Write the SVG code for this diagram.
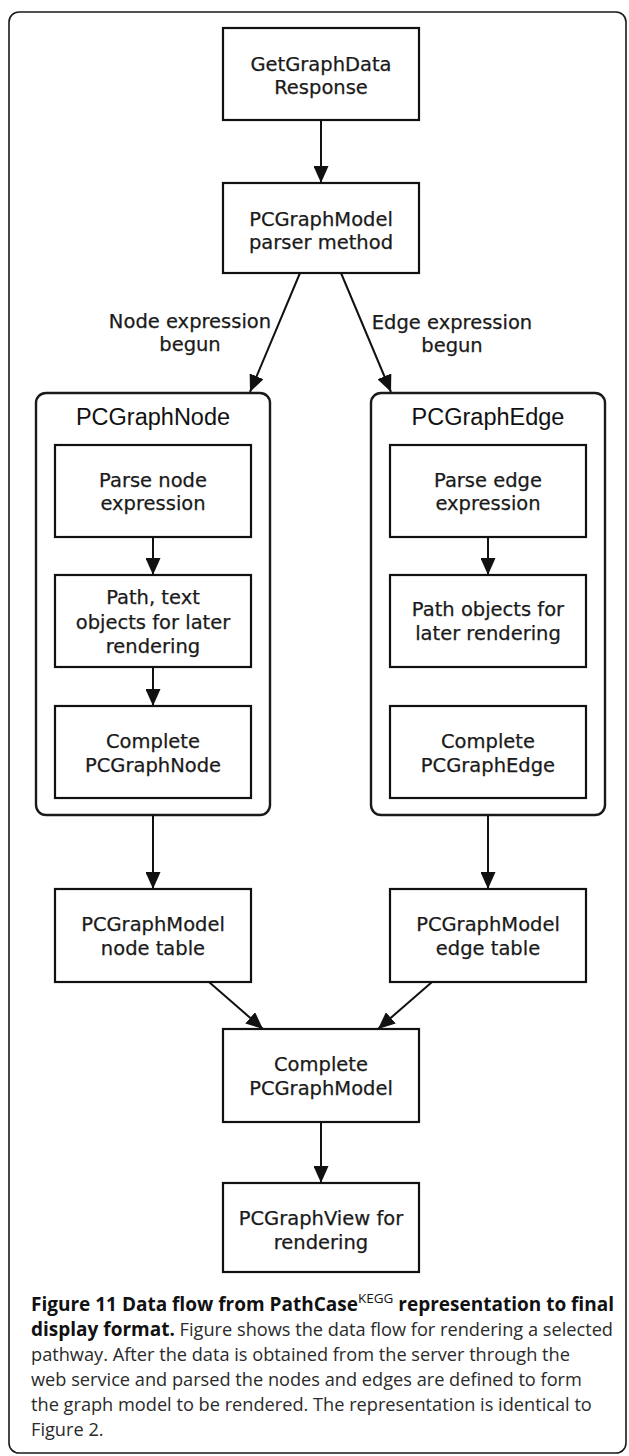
<svg xmlns="http://www.w3.org/2000/svg" width="629" height="1456" viewBox="0 0 629 1456">
  <style>
    .frame { fill: #ffffff; stroke: #1a1a1a; stroke-width: 1.6; }
    .box { fill: #ffffff; stroke: #111111; stroke-width: 2.2; }
    .group { fill: #ffffff; stroke: #1a1a1a; stroke-width: 2.4; }
    .lbl { font-family: "DejaVu Sans", "Liberation Sans", sans-serif; font-size: 19.5px; fill: #1a1a1a; stroke: #1a1a1a; stroke-width: 0.25; text-anchor: middle; }
    .title { font-family: "Liberation Sans", Arial, sans-serif; font-size: 23.5px; fill: #111111; text-anchor: middle; }
    .edge { stroke: #111111; stroke-width: 2; fill: none; marker-end: url(#arrow); }
    .cap { font-family: "Open Sans", "Noto Sans", sans-serif; font-size: 18.2px; fill: #2a2a2a; }
    .capb { font-weight: bold; font-size: 19px; fill: #111111; }
  </style>
  <defs>
    <marker id="arrow" markerWidth="17" markerHeight="15" refX="17" refY="7.5" orient="auto" markerUnits="userSpaceOnUse">
      <path d="M0,0 L17,7.5 L0,15 z" fill="#111111"/>
    </marker>
  </defs>

  <!-- outer figure frame -->
  <rect class="frame" x="9" y="12" width="617" height="1441" rx="10" ry="10"/>

  <!-- containers -->
  <g id="pcgraphnode">
    <rect class="group" x="36" y="393" width="234" height="422" rx="10" ry="10"/>
    <text class="title" x="153" y="425">PCGraphNode</text>
  </g>
  <g id="pcgraphedge">
    <rect class="group" x="371" y="393" width="234" height="422" rx="10" ry="10"/>
    <text class="title" x="488" y="425">PCGraphEdge</text>
  </g>

  <!-- connectors -->
  <g id="connectors">
    <line class="edge" x1="321" y1="120" x2="321" y2="183"/>
    <line class="edge" x1="300" y1="273" x2="250" y2="392"/>
    <line class="edge" x1="341" y1="273" x2="391" y2="392"/>
    <line class="edge" x1="153" y1="537" x2="153" y2="575"/>
    <line class="edge" x1="488" y1="537" x2="488" y2="575"/>
    <line class="edge" x1="153" y1="667" x2="153" y2="706"/>
    <line class="edge" x1="153" y1="815" x2="153" y2="889"/>
    <line class="edge" x1="488" y1="815" x2="488" y2="889"/>
    <line class="edge" x1="209" y1="982" x2="263" y2="1029"/>
    <line class="edge" x1="432" y1="982" x2="378" y2="1029"/>
    <line class="edge" x1="321" y1="1122" x2="321" y2="1183"/>
    <text class="lbl" x="190" y="328">Node expression</text>
    <text class="lbl" x="190" y="351">begun</text>
    <text class="lbl" x="452" y="329">Edge expression</text>
    <text class="lbl" x="452" y="352">begun</text>
  </g>

  <!-- nodes -->
  <g id="getgraphdata">
    <rect class="box" x="223" y="28" width="196" height="92"/>
    <text class="lbl" x="321" y="71">GetGraphData</text>
    <text class="lbl" x="321" y="94">Response</text>
  </g>
  <g id="parser">
    <rect class="box" x="223" y="183" width="196" height="90"/>
    <text class="lbl" x="321" y="226">PCGraphModel</text>
    <text class="lbl" x="321" y="249">parser method</text>
  </g>

  <g id="parse-node">
    <rect class="box" x="55" y="445" width="196" height="92"/>
    <text class="lbl" x="153" y="487">Parse node</text>
    <text class="lbl" x="153" y="510">expression</text>
  </g>
  <g id="node-objects">
    <rect class="box" x="55" y="575" width="196" height="92"/>
    <text class="lbl" x="153" y="604">Path, text</text>
    <text class="lbl" x="153" y="629">objects for later</text>
    <text class="lbl" x="153" y="653">rendering</text>
  </g>
  <g id="complete-node">
    <rect class="box" x="55" y="706" width="196" height="92"/>
    <text class="lbl" x="153" y="748">Complete</text>
    <text class="lbl" x="153" y="772">PCGraphNode</text>
  </g>

  <g id="parse-edge">
    <rect class="box" x="390" y="445" width="196" height="92"/>
    <text class="lbl" x="488" y="487">Parse edge</text>
    <text class="lbl" x="488" y="510">expression</text>
  </g>
  <g id="edge-objects">
    <rect class="box" x="390" y="575" width="196" height="92"/>
    <text class="lbl" x="488" y="616">Path objects for</text>
    <text class="lbl" x="488" y="640">later rendering</text>
  </g>
  <g id="complete-edge">
    <rect class="box" x="390" y="706" width="196" height="92"/>
    <text class="lbl" x="488" y="748">Complete</text>
    <text class="lbl" x="488" y="772">PCGraphEdge</text>
  </g>

  <g id="node-table">
    <rect class="box" x="55" y="889" width="196" height="93"/>
    <text class="lbl" x="153" y="931">PCGraphModel</text>
    <text class="lbl" x="153" y="955">node table</text>
  </g>
  <g id="edge-table">
    <rect class="box" x="390" y="889" width="196" height="93"/>
    <text class="lbl" x="488" y="931">PCGraphModel</text>
    <text class="lbl" x="488" y="955">edge table</text>
  </g>

  <g id="complete-model">
    <rect class="box" x="223" y="1029" width="196" height="93"/>
    <text class="lbl" x="321" y="1071">Complete</text>
    <text class="lbl" x="321" y="1095">PCGraphModel</text>
  </g>
  <g id="graph-view">
    <rect class="box" x="223" y="1183" width="196" height="89"/>
    <text class="lbl" x="321" y="1225">PCGraphView for</text>
    <text class="lbl" x="321" y="1249">rendering</text>
  </g>

  <!-- caption -->
  <g id="caption">
    <text class="cap" x="31" y="1311"><tspan class="capb">Figure 11 Data flow from PathCase</tspan><tspan font-size="13.5" dy="-8" fill="#111111">KEGG</tspan><tspan class="capb" dy="8"> representation to final</tspan></text>
    <text class="cap" x="31" y="1336"><tspan class="capb">display format.</tspan> Figure shows the data flow for rendering a selected</text>
    <text class="cap" x="31" y="1361">pathway. After the data is obtained from the server through the</text>
    <text class="cap" x="31" y="1386">web service and parsed the nodes and edges are defined to form</text>
    <text class="cap" x="31" y="1411">the graph model to be rendered. The representation is identical to</text>
    <text class="cap" x="31" y="1436">Figure 2.</text>
  </g>
</svg>
